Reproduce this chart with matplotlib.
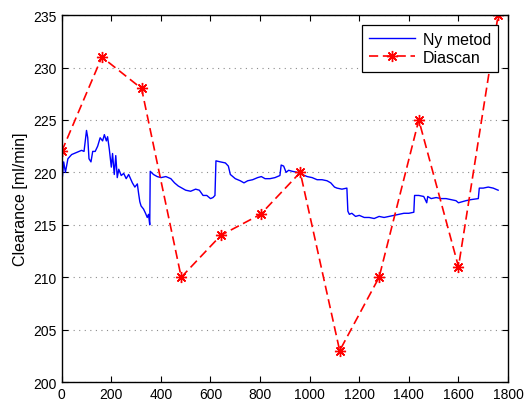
import numpy as np
import matplotlib
matplotlib.use('Agg')
import matplotlib.pyplot as plt

plt.rcParams['font.family'] = ['Liberation Sans', 'DejaVu Sans']

# Diascan measurements
dia_x = [0, 162, 322, 482, 642, 802, 962, 1121, 1280, 1440, 1600, 1760]
dia_y = [222, 231, 228, 210, 214, 216, 220, 203, 210, 225, 211, 235]

# Ny metod, 10 values per row
ny_x = [0, 3, 8, 15, 25, 40, 60, 80, 90, 95,
        100, 105, 110, 118, 125, 135, 145, 155, 165, 172,
        180, 185, 192, 200, 205, 212, 218, 224, 230, 240,
        250, 260, 270, 285, 295, 305, 310, 315, 320, 330,
        338, 345, 350, 355, 357, 370, 385, 400, 420, 440,
        455, 470, 485, 500, 520, 540, 555, 570, 585, 600,
        610, 618, 622, 640, 660, 672, 680, 690, 700, 720,
        735, 750, 770, 790, 805, 820, 840, 860, 880, 885,
        895, 905, 915, 930, 950, 970, 990, 1010, 1030, 1050,
        1070, 1085, 1100, 1110, 1130, 1150, 1154, 1160, 1170, 1185,
        1200, 1220, 1240, 1260, 1280, 1300, 1320, 1340, 1360, 1380,
        1400, 1420, 1423, 1440, 1460, 1472, 1476, 1490, 1510, 1530,
        1550, 1570, 1590, 1600, 1615, 1630, 1650, 1680, 1684, 1700,
        1720, 1740, 1760]
ny_y = [220.5, 219.6, 221.0, 220.0, 221.3, 221.7, 221.9, 222.1, 222.0, 223.0,
        224.0, 223.3, 221.3, 221.0, 222.0, 222.0, 222.5, 223.3, 223.0, 223.6,
        223.0, 223.4, 222.2, 220.5, 221.8, 219.8, 221.6, 219.5, 220.3, 219.7,
        219.9, 219.4, 219.8, 219.0, 218.6, 218.9, 218.0, 217.2, 216.8, 216.5,
        216.1, 215.7, 216.0, 215.0, 220.1, 219.8, 219.6, 219.5, 219.6, 219.4,
        219.0, 218.7, 218.5, 218.3, 218.2, 218.4, 218.3, 217.8, 217.8, 217.5,
        217.6, 217.8, 221.1, 221.0, 220.9, 220.6, 219.8, 219.6, 219.4, 219.2,
        219.0, 219.2, 219.3, 219.5, 219.6, 219.4, 219.4, 219.5, 219.7, 220.7,
        220.6, 220.0, 220.2, 220.1, 220.0, 219.8, 219.6, 219.5, 219.3, 219.3,
        219.2, 219.0, 218.6, 218.5, 218.4, 218.5, 216.3, 216.0, 216.1, 215.8,
        215.9, 215.7, 215.7, 215.6, 215.8, 215.7, 215.8, 215.9, 216.0, 216.1,
        216.1, 216.2, 217.8, 217.8, 217.7, 217.1, 217.7, 217.5, 217.6, 217.5,
        217.5, 217.4, 217.3, 217.1, 217.2, 217.3, 217.4, 217.5, 218.5, 218.5,
        218.6, 218.5, 218.3]

fig = plt.figure(figsize=(5.32, 4.02), dpi=100)
ax = fig.add_axes([0.116, 0.047, 0.839, 0.913])

ax.plot(ny_x, ny_y, color='blue', lw=1.0, label='Ny metod')
# MATLAB style asterisk marker (8 spokes)
ax.plot(dia_x, dia_y, color='red', lw=1.2, linestyle=(0, (5.5, 2.8)),
        marker=(8, 2, 0), markersize=8, markeredgewidth=1.0,
        label='Diascan')

ax.set_xlim(0, 1800)
ax.set_ylim(200, 235)
ax.set_xticks(np.arange(0, 1801, 200))
ax.set_yticks(np.arange(200, 236, 5))
ax.yaxis.grid(True, linestyle=(0, (1, 4)), color='0.55', lw=0.8)
ax.tick_params(direction='in', top=True, right=True, labelsize=10, length=4)
for s in ax.spines.values():
    s.set_linewidth(1.0)
ax.set_ylabel('Clearance [ml/min]', fontsize=11.5)

leg = ax.legend(loc='upper right', fontsize=11.5, fancybox=False,
                edgecolor='black', framealpha=1, borderaxespad=0.6,
                handlelength=2.9, handletextpad=0.5, labelspacing=0.2,
                borderpad=0.45)
leg.get_frame().set_linewidth(0.9)

fig.savefig('out.png', dpi=100)
